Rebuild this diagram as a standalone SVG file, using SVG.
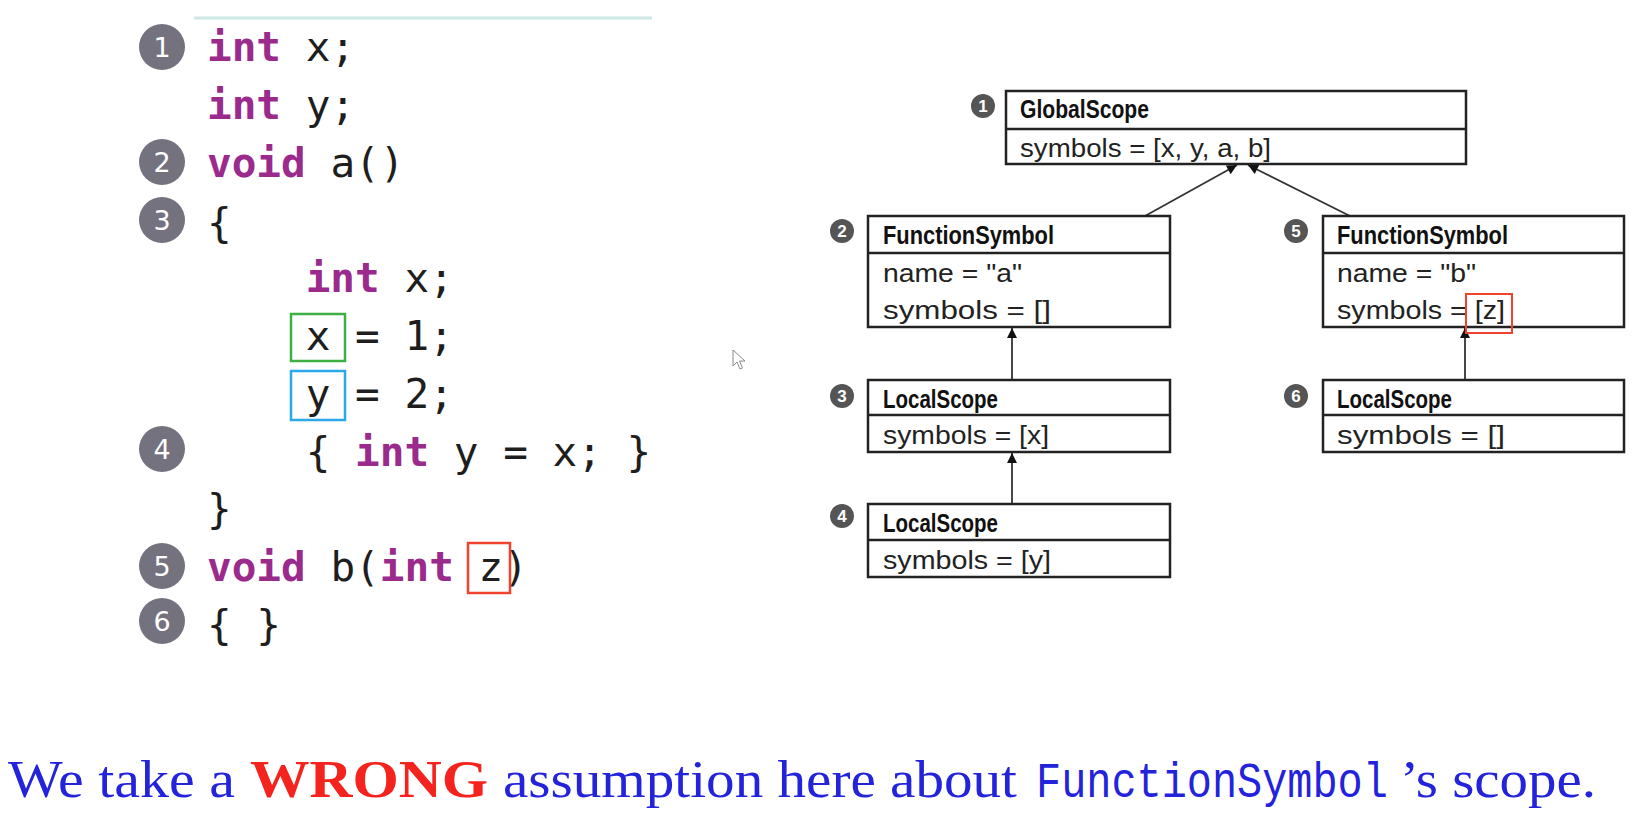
<svg xmlns="http://www.w3.org/2000/svg" width="1644" height="819" viewBox="0 0 1644 819">
  <defs>
    <style>
      .code { font-family: "DejaVu Sans Mono", "Liberation Mono", monospace; font-size: 41px; fill: #1e1e1e; }
      .kw { fill: #9a2a8c; font-weight: bold; }
      .bubble { fill: #74727e; }
      .bubble-num { font-family: "DejaVu Sans", "Liberation Sans", sans-serif; font-size: 27px; fill: #ffffff; text-anchor: middle; }
      .box { fill: #ffffff; stroke: #222222; stroke-width: 2.5; }
      .sep { stroke: #222222; stroke-width: 2.5; }
      .title { font-family: "Liberation Sans", Arial, sans-serif; font-weight: bold; font-size: 26px; fill: #111111; }
      .field { font-family: "Liberation Sans", Arial, sans-serif; font-size: 26px; fill: #222222; }
      .tag { fill: #555555; }
      .tag-num { font-family: "Liberation Sans", Arial, sans-serif; font-weight: bold; font-size: 17px; fill: #ffffff; text-anchor: middle; }
      .link { stroke: #333333; stroke-width: 1.8; fill: none; marker-end: url(#head); }
      .caption { font-family: "Liberation Serif", "Times New Roman", serif; font-size: 52px; fill: #2323dc; }
      .mono { font-family: "Liberation Mono", "Courier New", monospace; font-size: 50px; fill: #2323dc; }
      .em { font-weight: bold; fill: #f5231e; }
    </style>
    <marker id="head" viewBox="0 0 10 10" refX="10" refY="5" markerWidth="13" markerHeight="10" markerUnits="userSpaceOnUse" orient="auto">
      <path d="M0,0 L10,5 L0,10 Z" fill="#111111"/>
    </marker>
  </defs>

  <rect width="1644" height="819" fill="#ffffff"/>

  <!-- top rule above the code -->
  <line x1="194" y1="18" x2="652" y2="18" stroke="#cfe7e5" stroke-width="3"/>

  <!-- source listing -->
  <g id="code" xml:space="preserve">
    <text class="code" x="207" y="61"><tspan class="kw">int</tspan> x;</text>
    <text class="code" x="207" y="119"><tspan class="kw">int</tspan> y;</text>
    <text class="code" x="207" y="177"><tspan class="kw">void</tspan> a()</text>
    <text class="code" x="207" y="237">{</text>
    <text class="code" x="305.7" y="292"><tspan class="kw">int</tspan> x;</text>
    <text class="code" x="305.7" y="350">x = 1;</text>
    <text class="code" x="305.7" y="408">y = 2;</text>
    <text class="code" x="305.7" y="466">{ <tspan class="kw">int</tspan> y = x; }</text>
    <text class="code" x="207" y="523">}</text>
    <text class="code" x="207" y="581"><tspan class="kw">void</tspan> b(<tspan class="kw">int</tspan> z)</text>
    <text class="code" x="207" y="639">{ }</text>
  </g>

  <!-- highlighted identifiers -->
  <g id="highlights" fill="none" stroke-width="2.5">
    <rect x="291" y="314" width="54" height="47" stroke="#3cb043"/>
    <rect x="291" y="371" width="54" height="49" stroke="#2aa8e8"/>
    <rect x="468" y="543" width="42" height="50" stroke="#f0432e"/>
  </g>

  <!-- numbered markers beside the code -->
  <g id="code-markers">
    <circle class="bubble" cx="162" cy="47" r="23"/><text class="bubble-num" x="162" y="57">1</text>
    <circle class="bubble" cx="162" cy="162" r="23"/><text class="bubble-num" x="162" y="172">2</text>
    <circle class="bubble" cx="162" cy="220" r="23"/><text class="bubble-num" x="162" y="230">3</text>
    <circle class="bubble" cx="162" cy="449" r="23"/><text class="bubble-num" x="162" y="459">4</text>
    <circle class="bubble" cx="162" cy="566" r="23"/><text class="bubble-num" x="162" y="576">5</text>
    <circle class="bubble" cx="162" cy="621" r="23"/><text class="bubble-num" x="162" y="631">6</text>
  </g>

  <!-- pointer -->
  <path d="M733,350 L733,366 L737,362 L740,369 L742.5,368 L739.5,361 L745,361 Z" fill="#ffffff" stroke="#8a8a8a" stroke-width="1"/>

  <!-- scope tree connectors -->
  <g id="connectors">
    <line class="link" x1="1145" y1="216" x2="1237" y2="165"/>
    <line class="link" x1="1350" y1="216" x2="1248" y2="165"/>
    <line class="link" x1="1012" y1="380" x2="1012" y2="328"/>
    <line class="link" x1="1012" y1="504" x2="1012" y2="453"/>
    <line class="link" x1="1465" y1="380" x2="1465" y2="328"/>
  </g>

  <!-- scope tree nodes -->
  <g id="global-scope">
    <rect class="box" x="1006" y="91" width="460" height="73"/>
    <line class="sep" x1="1006" y1="129" x2="1466" y2="129"/>
    <text class="title" x="1020" y="118" textLength="129" lengthAdjust="spacingAndGlyphs">GlobalScope</text>
    <text class="field" x="1020" y="157" textLength="251" lengthAdjust="spacingAndGlyphs">symbols = [x, y, a, b]</text>
    <circle class="tag" cx="983" cy="106" r="12"/><text class="tag-num" x="983" y="112">1</text>
  </g>

  <g id="function-a">
    <rect class="box" x="868" y="216" width="302" height="111"/>
    <line class="sep" x1="868" y1="253" x2="1170" y2="253"/>
    <text class="title" x="883" y="244" textLength="171" lengthAdjust="spacingAndGlyphs">FunctionSymbol</text>
    <text class="field" x="883" y="282" textLength="139" lengthAdjust="spacingAndGlyphs">name = "a"</text>
    <text class="field" x="883" y="319" textLength="168" lengthAdjust="spacingAndGlyphs">symbols = []</text>
    <circle class="tag" cx="842" cy="231" r="12"/><text class="tag-num" x="842" y="237">2</text>
  </g>

  <g id="local-scope-3">
    <rect class="box" x="868" y="380" width="302" height="72"/>
    <line class="sep" x1="868" y1="415" x2="1170" y2="415"/>
    <text class="title" x="883" y="408" textLength="115" lengthAdjust="spacingAndGlyphs">LocalScope</text>
    <text class="field" x="883" y="444" textLength="166" lengthAdjust="spacingAndGlyphs">symbols = [x]</text>
    <circle class="tag" cx="842" cy="396" r="12"/><text class="tag-num" x="842" y="402">3</text>
  </g>

  <g id="local-scope-4">
    <rect class="box" x="868" y="504" width="302" height="73"/>
    <line class="sep" x1="868" y1="540" x2="1170" y2="540"/>
    <text class="title" x="883" y="532" textLength="115" lengthAdjust="spacingAndGlyphs">LocalScope</text>
    <text class="field" x="883" y="569" textLength="168" lengthAdjust="spacingAndGlyphs">symbols = [y]</text>
    <circle class="tag" cx="842" cy="516" r="12"/><text class="tag-num" x="842" y="522">4</text>
  </g>

  <g id="function-b">
    <rect class="box" x="1323" y="216" width="301" height="111"/>
    <line class="sep" x1="1323" y1="253" x2="1624" y2="253"/>
    <text class="title" x="1337" y="244" textLength="171" lengthAdjust="spacingAndGlyphs">FunctionSymbol</text>
    <text class="field" x="1337" y="282" textLength="139" lengthAdjust="spacingAndGlyphs">name = "b"</text>
    <text class="field" x="1337" y="319" textLength="168" lengthAdjust="spacingAndGlyphs">symbols = [z]</text>
    <rect x="1466" y="294" width="46" height="39" fill="none" stroke="#f0432e" stroke-width="2"/>
    <circle class="tag" cx="1296" cy="231" r="12"/><text class="tag-num" x="1296" y="237">5</text>
  </g>

  <g id="local-scope-6">
    <rect class="box" x="1323" y="380" width="301" height="72"/>
    <line class="sep" x1="1323" y1="415" x2="1624" y2="415"/>
    <text class="title" x="1337" y="408" textLength="115" lengthAdjust="spacingAndGlyphs">LocalScope</text>
    <text class="field" x="1337" y="444" textLength="168" lengthAdjust="spacingAndGlyphs">symbols = []</text>
    <circle class="tag" cx="1296" cy="396" r="12"/><text class="tag-num" x="1296" y="402">6</text>
  </g>

  <!-- caption: one line, with the type name set in typewriter face -->
  <g id="caption">
    <text class="caption" y="797"><tspan x="8" textLength="227" lengthAdjust="spacingAndGlyphs">We take a</tspan><tspan class="em" x="250" textLength="238" lengthAdjust="spacingAndGlyphs">WRONG</tspan><tspan x="503" textLength="514" lengthAdjust="spacingAndGlyphs">assumption here about</tspan></text>
    <text class="mono" transform="translate(1036,797) scale(0.838,1)" x="0" y="0">FunctionSymbol</text>
    <text class="caption" x="1400" y="797" textLength="196" lengthAdjust="spacingAndGlyphs">’s scope.</text>
  </g>
</svg>
